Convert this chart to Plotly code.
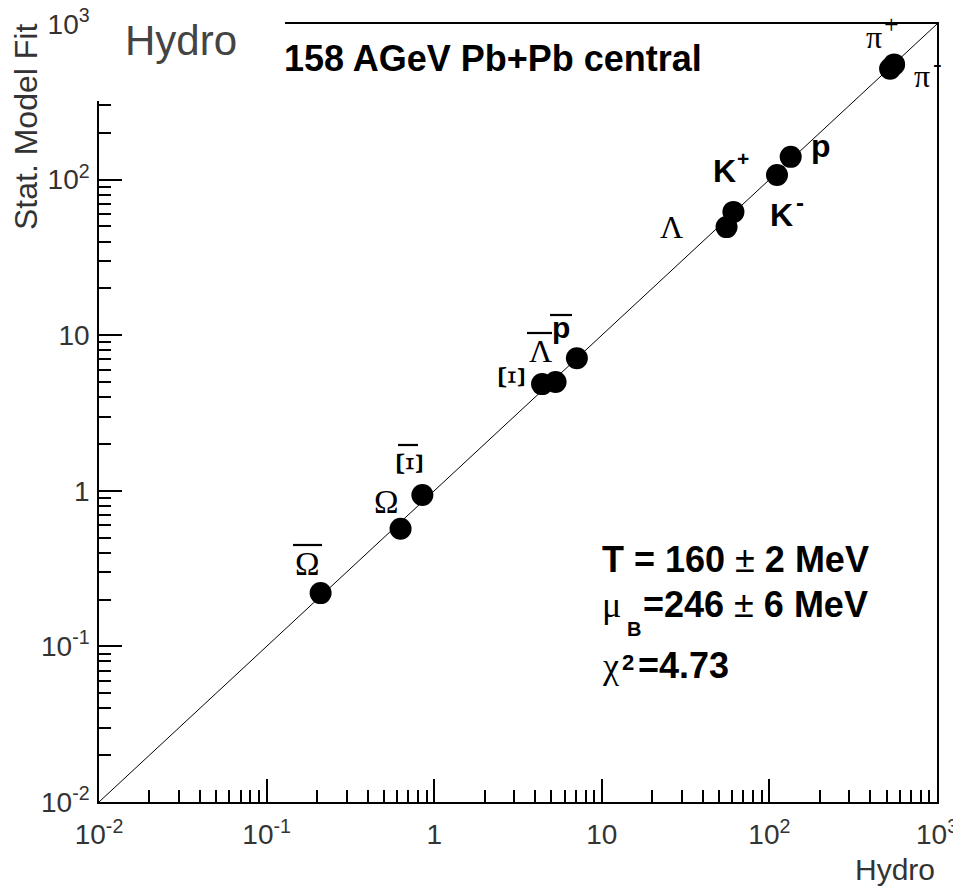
import plotly.graph_objects as go

# ---------------- data ----------------
particles = ["π+", "π-", "K+", "K-", "p", "p̄", "Λ", "Λ̄", "Ξ", "Ξ̄", "Ω", "Ω̄"]
hydro = [555, 525, 61, 111, 134, 7.1, 55.5, 5.3, 4.4, 0.85, 0.63, 0.21]
stat_fit = [550, 515, 62, 107, 140, 7.1, 49.5, 5.0, 4.85, 0.94, 0.57, 0.22]
diag = [0.01, 1000]
major_vals = [0.01, 0.1, 1, 10, 100, 1000]
major_text = ["10<sup>-2</sup>", "10<sup>-1</sup>", "1", "10", "10<sup>2</sup>", "10<sup>3</sup>"]
minor_vals = [m * 10.0 ** e for e in range(-2, 3) for m in range(2, 10)]

OFF = 8  # page body margin
W, H = 961 - OFF, 890 - OFF
# plot frame in screen pixels: x 99..937, y 24..802
ML, MT = 99 - OFF, 24 - OFF
MR, MB = W - (937 - OFF), H - (802 - OFF)
PW, PH = W - ML - MR, H - MT - MB

SANS = "Liberation Sans"
SERIF = "Liberation Serif"


def px(x):
    return (x - OFF - ML) / PW


def py(y):
    return (802 - y) / PH


annotations = []


def label(text, x, baseline, size, family=SANS, xanchor="center", angle=0, color="black", mid=None):
    k = 0.3465 if family == SANS else 0.3375
    ymid = mid if mid is not None else baseline - k * size
    annotations.append(dict(text=text, x=px(x), y=py(ymid), xref="paper", yref="paper",
                            xanchor=xanchor, yanchor="middle", showarrow=False,
                            textangle=angle, font=dict(family=family, size=size, color=color)))


shapes = []


def overline(x0, x1, y):
    shapes.append(dict(type="line", xref="paper", yref="paper", x0=px(x0), x1=px(x1),
                       y0=py(y), y1=py(y), line=dict(color="black", width=2.2), layer="above"))


# white title pad covering top-left of the frame (ROOT style)
shapes.append(dict(type="rect", xref="paper", yref="paper", x0=px(96), x1=px(285),
                   y0=py(101), y1=py(-5), fillcolor="white", line=dict(width=0), layer="above"))

# particle labels
label("π", 874, 48, 32, SERIF)
label("+", 891, 0, 26, SERIF, mid=24)
label("π", 921.5, 86.5, 32, SERIF)
label("-", 937, 0, 26, SERIF, mid=63)
label("<b>p</b>", 821, 157, 32)
label("<b>K</b>", 724.5, 182, 32)
label("<b>+</b>", 743, 0, 21, mid=158)
label("<b>K</b>", 781, 226, 32)
label("<b>-</b>", 800, 0, 24, mid=202)
label("Λ", 671.5, 238, 32, SERIF)
label("<b>p</b>", 561, 337.5, 30)
overline(550, 572, 315)
label("Λ", 540, 362, 32, SERIF)
overline(527, 552, 333)
label("Ξ", 512.5, 0, 38, SERIF, angle=90, mid=376.5)
label("Ξ", 409, 0, 38, SERIF, angle=90, mid=463.5)
overline(398, 418, 445)
label("Ω", 386.5, 513, 33, SERIF)
label("Ω", 307.5, 575, 33, SERIF)
overline(293, 322, 545)

# header text
label("<b>158 AGeV Pb+Pb central</b>", 282, 71, 36, xanchor="left")

# fit results
label("<b>T = 160 </b>±<b> 2 MeV</b>", 600, 572, 36, xanchor="left")
label("μ", 600, 617, 36, SERIF, xanchor="left")
label("<b>B</b>", 634, 636, 20)
label("<b>=246 </b>±<b> 6 MeV</b>", 641, 617, 36, xanchor="left")
label("χ", 600, 678, 36, SERIF, xanchor="left")
label("<b>2</b>", 628, 0, 22, mid=662)
label("<b>=4.73</b>", 636, 678, 36, xanchor="left")

# axis titles
label("Hydro", 937, 880, 30, xanchor="right", color="#333")
annotations.append(dict(text="Stat. Model Fit", x=px(26), y=py(22), xref="paper", yref="paper",
                        xanchor="center", yanchor="top", showarrow=False, textangle=-90,
                        font=dict(family=SANS, size=32, color="#333")))

fig = go.Figure()
fig.add_trace(go.Scatter(x=diag, y=diag, mode="lines", line=dict(color="black", width=1),
                         hoverinfo="skip", showlegend=False))
fig.add_trace(go.Scatter(x=hydro, y=stat_fit, mode="markers", text=particles,
                         marker=dict(color="black", size=22, line=dict(width=0)),
                         showlegend=False))

axis_common = dict(
    type="log", showgrid=False, zeroline=False, showline=True, linecolor="black",
    linewidth=1.5, mirror=True, ticks="inside", ticklen=23, tickwidth=1.5, tickcolor="black",
    tickmode="array", tickvals=major_vals, ticktext=major_text, automargin=False,
    ticklabeloverflow="allow",
    tickfont=dict(family=SANS, size=28, color="#333"),
    minor=dict(tickmode="array", tickvals=minor_vals, ticks="inside", ticklen=12,
               tickwidth=1.5, tickcolor="black"),
)
fig.update_xaxes(range=[-2, 3], ticklabelstandoff=7, **axis_common)
fig.update_yaxes(range=[-2, 3], ticklabelstandoff=2, **axis_common)

fig.update_layout(
    width=W, height=H,
    margin=dict(l=ML, r=MR, t=MT, b=MB, pad=0, autoexpand=False),
    paper_bgcolor="white", plot_bgcolor="white",
    title=dict(text="Hydro", x=(125 - OFF) / W, xanchor="left", xref="container",
               y=1 - (40 - OFF) / H, yanchor="middle", yref="container", automargin=False,
               font=dict(family=SANS, size=42, color="#444")),
    annotations=annotations, shapes=shapes,
)

fig.write_html("out.html")
